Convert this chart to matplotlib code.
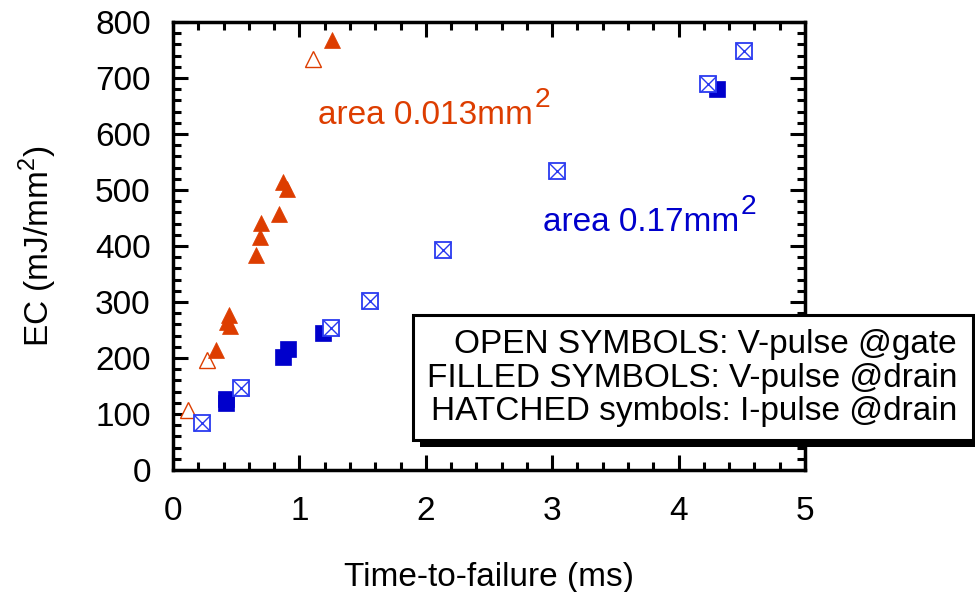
import matplotlib
matplotlib.use('Agg')
import matplotlib.pyplot as plt
from matplotlib.patches import Rectangle
from matplotlib.ticker import MultipleLocator
from matplotlib.transforms import offset_copy

plt.rcParams['font.family'] = ['Liberation Sans', 'DejaVu Sans']
plt.rcParams['mathtext.fontset'] = 'custom'
plt.rcParams['mathtext.rm'] = 'Liberation Sans'

# small device (0.013 mm^2)
gate_small_x = [0.12, 0.27, 1.11]
gate_small_y = [107, 196, 734]
drain_small_x = [0.34, 0.43, 0.44, 0.45, 0.66, 0.69, 0.70, 0.84, 0.87, 0.90, 1.26]
drain_small_y = [214, 265, 276, 257, 384, 416, 441, 458, 514, 502, 768]

# large device (0.17 mm^2)
drain_large_x = [0.42, 0.42, 0.87, 0.91, 1.19, 4.30]
drain_large_y = [119, 127, 202, 216, 245, 680]
ipulse_large_x = [0.23, 0.54, 1.25, 1.56, 2.14, 3.04, 4.23, 4.52]
ipulse_large_y = [84, 147, 253, 302, 393, 534, 690, 748]

legend_lines = ['OPEN SYMBOLS: V-pulse @gate',
                'FILLED SYMBOLS: V-pulse @drain',
                'HATCHED symbols: I-pulse @drain']

orange = '#DD3D00'
blue = '#0000CC'
hatch_blue = '#2a3af0'
fs = 24

fig = plt.figure(figsize=(9.75, 5.92), dpi=100)
ax = fig.add_axes([173 / 975, 122 / 592, 632 / 975, 448 / 592])

ax.plot(gate_small_x, gate_small_y, ls='none', marker='^', ms=11.5,
        mfc='white', mec=orange, mew=1.0)
ax.plot(drain_small_x, drain_small_y, ls='none', marker='^', ms=11.5,
        mfc=orange, mec=orange, mew=0.5)
ax.plot(drain_large_x, drain_large_y, ls='none', marker='s', ms=11,
        mfc=blue, mec=blue, mew=0.5)
ax.plot(ipulse_large_x, ipulse_large_y, ls='none', marker='s', ms=11,
        mfc='white', mec=hatch_blue, mew=1.3)
ax.plot(ipulse_large_x, ipulse_large_y, ls='none', marker='x', ms=11,
        mec=hatch_blue, mew=1.0)


def area_label(x, y, s, color):
    t = ax.text(x, y, s, color=color, fontsize=fs)
    fig.canvas.draw()
    ext = t.get_window_extent()
    # superscript "2", nearly full size, raised
    tr = offset_copy(ax.transData, fig=fig, x=ext.width * 72 / fig.dpi + 1,
                     y=12, units='points')
    ax.text(x, y, '2', color=color, fontsize=fs * 0.85, transform=tr)


area_label(1.147, 618, 'area 0.013mm', orange)
area_label(2.93, 427, 'area 0.17mm', blue)

ax.set_xlim(0, 5)
ax.set_ylim(0, 800)
ax.xaxis.set_major_locator(MultipleLocator(1))
ax.xaxis.set_minor_locator(MultipleLocator(0.2))
ax.yaxis.set_major_locator(MultipleLocator(100))
ax.yaxis.set_minor_locator(MultipleLocator(20))
ax.tick_params(which='both', direction='in', top=True, right=True,
               width=2.2, labelsize=fs, pad=16)
ax.tick_params(axis='x', pad=19)
ax.tick_params(which='major', length=11)
ax.tick_params(which='minor', length=6)
for s in ax.spines.values():
    s.set_linewidth(2.5)

ax.set_xlabel('Time-to-failure (ms)', fontsize=fs, labelpad=25)
ax.set_ylabel('EC (mJ/mm$^\\mathregular{2}$)', fontsize=fs, labelpad=26)

# boxed note with drop shadow, in figure pixels
W, H = 975, 592
bx0, by0, bx1, by1 = 413, 315, 973, 440
sh = 7
fig.patches.append(Rectangle(((bx0 + sh) / W, 1 - (by1 + sh) / H),
                             (bx1 - bx0) / W, (by1 - by0) / H,
                             transform=fig.transFigure, facecolor='black',
                             edgecolor='black', lw=0))
fig.patches.append(Rectangle((bx0 / W, 1 - by1 / H),
                             (bx1 - bx0) / W, (by1 - by0) / H,
                             transform=fig.transFigure, facecolor='white',
                             edgecolor='black', lw=2.2))
fig.text(957 / W, 1 - 378 / H, '\n'.join(legend_lines), fontsize=fs,
         ha='right', va='center', multialignment='right', linespacing=1.12)

fig.savefig('out.png', dpi=100)
